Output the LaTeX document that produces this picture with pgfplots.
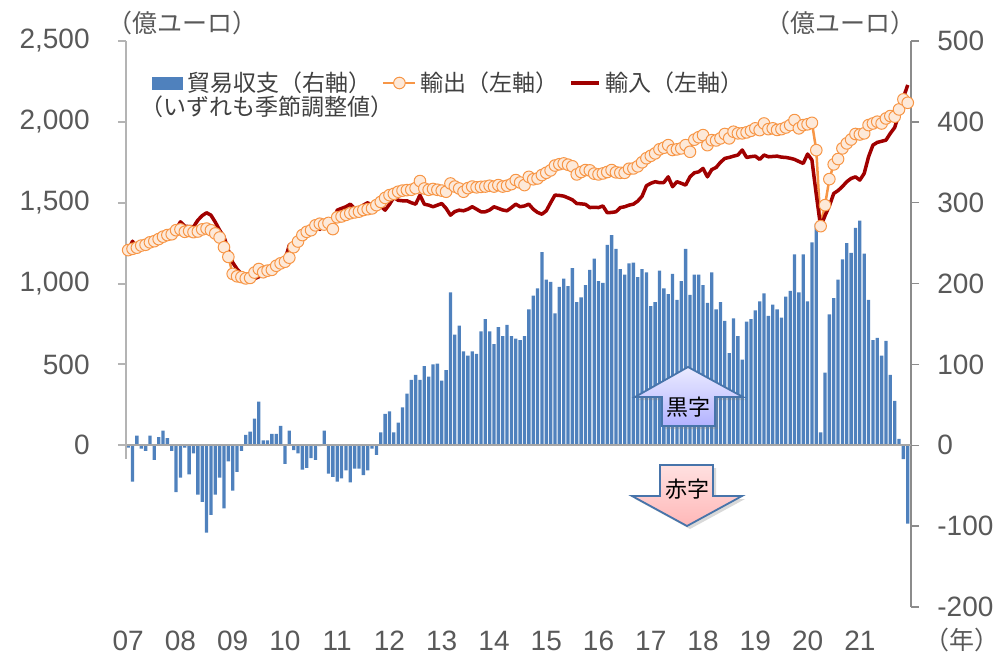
\documentclass[border=0pt]{standalone}
\usepackage{pgfplots}
\pgfplotsset{compat=1.18}
\usepackage{pgfplotstable}
\usepackage{fontspec}
\setmainfont{Liberation Sans}
\newfontfamily\cjk{Noto Sans CJK JP}
\usetikzlibrary{shadows}
\definecolor{barblue}{HTML}{4F81BD}
\definecolor{expline}{HTML}{F79646}
\definecolor{expfill}{HTML}{FDE9D9}
\definecolor{impline}{HTML}{A00000}
\definecolor{lab}{HTML}{595959}
\definecolor{txt}{HTML}{404040}
\definecolor{axL}{HTML}{B4B4B4}
\definecolor{axR}{HTML}{8C8C8C}
\definecolor{zl}{HTML}{A6A6A6}
\pgfplotstableread{
i e m b
0 1207 1207 -3
1 1215 1262 -45
2 1222 1217 12
3 1235 1238 -4
4 1240 1240 -7
5 1255 1245 12
6 1262 1250 -18
7 1275 1262 10
8 1290 1280 18
9 1300 1290 9
10 1305 1295 -7
11 1330 1335 -58
12 1335 1382 -40
13 1320 1355 -3
14 1325 1352 -36
15 1318 1351 -10
16 1322 1392 -61
17 1335 1420 -70
18 1340 1438 -108
19 1330 1423 -86
20 1310 1380 -61
21 1285 1330 -40
22 1225 1289 -78
23 1165 1207 -20
24 1060 1130 -56
25 1045 1090 -33
26 1040 1060 -7
27 1032 1030 13
28 1035 1025 17
29 1068 1030 33
30 1090 1042 54
31 1070 1055 6
32 1080 1062 6
33 1085 1083 14
34 1110 1100 14
35 1125 1114 24
36 1135 1145 -23
37 1160 1238 18
38 1225 1248 -6
39 1260 1290 -10
40 1300 1315 -30
41 1320 1337 -28
42 1330 1345 -16
43 1360 1351 -18
44 1370 1335 -1
45 1365 1382 18
46 1375 1372 -35
47 1337 1375 -39
48 1410 1454 -45
49 1415 1465 -41
50 1425 1475 -31
51 1435 1491 -46
52 1440 1465 -29
53 1445 1465 -29
54 1455 1485 -37
55 1460 1500 -31
56 1465 1480 -4
57 1485 1480 -12
58 1505 1478 16
59 1530 1454 39
60 1547 1490 42
61 1555 1533 16
62 1568 1515 28
63 1575 1512 47
64 1578 1512 64
65 1580 1500 81
66 1590 1491 87
67 1634 1547 81
68 1588 1491 98
69 1580 1485 85
70 1585 1475 100
71 1580 1485 101
72 1575 1495 80
73 1568 1465 93
74 1619 1423 189
75 1600 1445 137
76 1588 1454 148
77 1568 1450 116
78 1590 1460 111
79 1600 1475 116
80 1595 1460 113
81 1598 1444 141
82 1600 1444 156
83 1605 1455 141
84 1600 1475 125
85 1609 1465 146
86 1600 1455 135
87 1605 1450 149
88 1615 1470 135
89 1640 1491 132
90 1625 1475 130
91 1609 1480 135
92 1660 1491 168
93 1645 1460 185
94 1650 1440 194
95 1671 1429 239
96 1685 1450 205
97 1700 1500 202
98 1730 1547 163
99 1738 1545 196
100 1743 1541 206
101 1735 1530 197
102 1725 1518 219
103 1675 1495 177
104 1690 1493 183
105 1702 1490 198
106 1700 1470 217
107 1680 1472 231
108 1675 1470 203
109 1681 1480 201
110 1690 1438 248
111 1702 1440 260
112 1688 1444 243
113 1685 1470 218
114 1685 1475 211
115 1710 1485 225
116 1712 1491 226
117 1725 1510 208
118 1750 1540 218
119 1775 1605 214
120 1790 1620 172
121 1805 1630 177
122 1830 1624 216
123 1840 1625 194
124 1856 1660 187
125 1826 1599 212
126 1830 1630 180
127 1836 1620 203
128 1856 1609 243
129 1815 1660 186
130 1890 1685 211
131 1905 1691 211
132 1918 1712 198
133 1856 1660 176
134 1887 1705 214
135 1885 1718 168
136 1898 1750 177
137 1925 1774 154
138 1898 1780 114
139 1939 1788 157
140 1929 1795 135
141 1929 1826 106
142 1935 1780 153
143 1945 1785 156
144 1960 1788 167
145 1949 1768 178
146 1990 1795 188
147 1955 1784 160
148 1960 1786 174
149 1950 1788 168
150 1955 1782 158
151 1965 1780 184
152 1980 1775 191
153 2011 1768 236
154 1960 1755 189
155 1980 1743 236
156 1985 1801 178
157 1994 1764 251
158 1825 1550 274
159 1355 1351 16
160 1485 1420 90
161 1646 1480 162
162 1737 1557 182
163 1770 1575 205
164 1836 1600 230
165 1867 1630 250
166 1891 1650 238
167 1925 1660 269
168 1922 1640 278
169 1929 1681 237
170 1980 1784 180
171 1990 1856 130
172 2001 1873 133
173 1990 1880 111
174 2021 1887 129
175 2036 1929 87
176 2032 1965 55
177 2077 2050 8
178 2139 2150 -17
179 2118 2228 -97
}\data
\pgfplotsset{
  barlegend/.style={legend image code/.code={\fill[barblue] (0pt,-3pt) rectangle (15pt,3pt);}},
  explegend/.style={legend image code/.code={\draw[mark repeat=2,mark phase=2,##1] plot coordinates {(0pt,0pt) (8pt,0pt) (16pt,0pt)};}},
  implegend/.style={legend image code/.code={\draw[##1] (0pt,0pt) -- (14pt,0pt);}},
}
\begin{document}
\begin{tikzpicture}
\path[use as bounding box] (0,0) rectangle (500pt,327.5pt);
\pgfplotsset{base/.style={at={(63pt,24pt)}, anchor=south west, scale only axis,
  width=392.5pt, height=283pt, xmin=-0.5, xmax=179.75, clip=false,
  tick align=outside, major tick length=4pt}}
% right axis with the balance bars
\begin{axis}[base, ymin=-200, ymax=500,
  axis x line*=bottom, x axis line style={draw=none},
  xtick={0,12,...,168}, xticklabels={07,08,09,10,11,12,13,14,15,16,17,18,19,20,21},
  xtick style={draw=none},
  xticklabel style={font=\fontsize{14}{14}\selectfont, text=lab, anchor=center, inner sep=0pt, yshift=-13pt},
  axis y line*=right, y axis line style={draw=axR, line width=0.75pt},
  ytick={-200,-100,0,100,200,300,400,500},
  yticklabels={-200,-100,0,100,200,300,400,500},
  ytick style={draw=axR, line width=0.75pt},
  yticklabel style={font=\fontsize{14}{14}\selectfont, text=lab, anchor=west, inner sep=0pt, xshift=9pt},
]
\addplot[ybar, bar width=0.76, fill=barblue, draw=none] table[x=i, y=b] {\data};
\draw[zl, line width=1pt] (axis cs:-0.5,0) -- (axis cs:179.75,0);
\end{axis}
% left axis with exports and imports
\begin{axis}[base, ymin=-1000, ymax=2500,
  axis x line=none, axis y line*=left, y axis line style={draw=none},
  ytick={0,500,1000,1500,2000,2500},
  yticklabels={0,500,{1,000},{1,500},{2,000},{2,500}},
  ytick style={draw=axL, line width=1pt},
  yticklabel style={font=\fontsize{14}{14}\selectfont, text=lab, anchor=east, inner sep=0pt, xshift=-14pt},
  legend columns=3,
  legend cell align=left,
  legend style={at={(0.0331,0.9258)}, anchor=west, draw=none, fill=none,
    inner sep=0pt, font=\cjk\fontsize{11.5}{13}\selectfont, text=txt,
    /tikz/every even column/.append style={column sep=3.5pt}},
]
\draw[axL, line width=1pt] (axis cs:-0.5,2500) -- (axis cs:-0.5,-87);
\addlegendimage{barlegend}
\addlegendentry{貿易収支（右軸）}
\addplot[expline, line width=1.25pt, line join=round, mark=*, mark size=2.9pt,
  mark options={fill=expfill, draw=expline, line width=0.5pt}, explegend]
  table[x=i, y=e] {\data};
\addlegendentry{輸出（左軸）}
\addplot[impline, line width=1.75pt, line join=round, mark=none, implegend]
  table[x=i, y=m] {\data};
\addlegendentry{輸入（左軸）}
\end{axis}
% texts
\node[font=\cjk\fontsize{11.5}{13}\selectfont, text=txt, anchor=west, inner sep=0pt] at (70pt,274pt) {（いずれも季節調整値）};
\node[font=\cjk\fontsize{12.5}{13}\selectfont, text=lab, inner sep=0pt] at (91pt,316pt) {（億ユーロ）};
\node[font=\cjk\fontsize{12.5}{13}\selectfont, text=lab, inner sep=0pt] at (420pt,316pt) {（億ユーロ）};
\node[font=\cjk\fontsize{12.5}{13}\selectfont, text=lab, inner sep=0pt] at (481pt,7.5pt) {（年）};
% arrows
\filldraw[draw=barblue!90!black, line width=0.9pt, top color=blue!8, bottom color=blue!30!white, line join=miter,
  drop shadow={shadow xshift=1.5pt, shadow yshift=-1.5pt, opacity=0.3}]
  (344pt,144pt) -- (371.5pt,129pt) -- (357.5pt,129pt) -- (357.5pt,114.5pt) -- (331pt,114.5pt) -- (331pt,129pt) -- (317.5pt,129pt) -- cycle;
\node[font=\cjk\fontsize{11}{12}\selectfont, inner sep=0pt] at (344pt,124pt) {黒字};
\filldraw[draw=barblue!90!black, line width=0.9pt, top color=red!12, bottom color=red!28, line join=miter,
  drop shadow={shadow xshift=1.5pt, shadow yshift=-1.5pt, opacity=0.3}]
  (330pt,95pt) -- (356.5pt,95pt) -- (356.5pt,79.5pt) -- (371pt,79.5pt) -- (343.5pt,64.5pt) -- (316pt,79.5pt) -- (330pt,79.5pt) -- cycle;
\node[font=\cjk\fontsize{11}{12}\selectfont, inner sep=0pt] at (343.5pt,83pt) {赤字};
\end{tikzpicture}
\end{document}
